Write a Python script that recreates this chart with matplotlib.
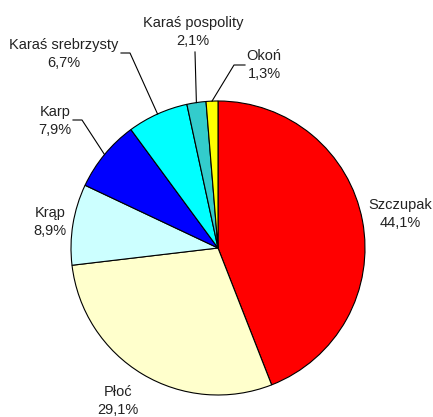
"""Pie chart: share of fish species in the catch."""
import numpy as np
import matplotlib.pyplot as plt

plt.rcParams['font.family'] = ['Liberation Sans', 'DejaVu Sans']

species = ['Szczupak', 'Płoć', 'Krąp', 'Karp', 'Karaś srebrzysty',
           'Karaś pospolity', 'Okoń']
shares = [44.1, 29.1, 8.9, 7.9, 6.7, 2.1, 1.3]
colors = ['#FF0000', '#FFFFCC', '#CCFFFF', '#0000FF', '#00FFFF',
          '#33CCCC', '#FFFF00']

W, H = 433, 417
cx, cy, r = 218, 248, 147   # pie centre / radius in pixels (y from top)

fig = plt.figure(figsize=(W / 100, H / 100), dpi=100)
ax = fig.add_axes([0, 0, 1, 1])
ax.set_aspect('equal')
ax.axis('off')

wedges, _ = ax.pie(shares, colors=colors, startangle=90, counterclock=False,
                   center=(cx, H - cy), radius=r,
                   wedgeprops=dict(edgecolor='black', linewidth=0.8))
ax.set_xlim(0, W)
ax.set_ylim(0, H)

# label centres (px, y from top)
label_pos = [(400, 214), (118, 401), (50, 222), (55, 121), (64, 54),
             (193, 32), (264, 65)]
# leader lines: points from the text towards the wedge edge
leaders = {3: [(73, 120), (82, 120)],
           4: [(121, 53), (130, 53)],
           5: [(195, 52)],
           6: [(245, 65), (234, 65)]}

for i, (name, val) in enumerate(zip(species, shares)):
    x, y = label_pos[i]
    ax.text(x, H - y, f'{name}\n{val:.1f}%'.replace('.', ','),
            ha='center', va='center', fontsize=10.5, linespacing=1.3,
            color='#222222')
    if i in leaders:
        w = wedges[i]
        mid = np.deg2rad((w.theta1 + w.theta2) / 2)
        ex, ey = cx + r * np.cos(mid), (H - cy) + r * np.sin(mid)
        pts = [(px, H - py) for px, py in leaders[i]] + [(ex, ey)]
        xs, ys = zip(*pts)
        ax.plot(xs, ys, color='black', linewidth=0.8)

fig.savefig('out.png', dpi=100)
